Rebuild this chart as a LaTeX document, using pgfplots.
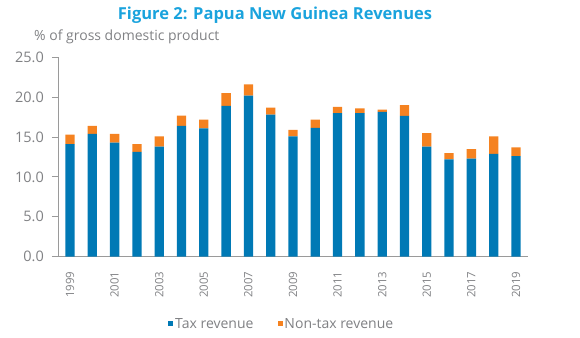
\documentclass[border=0pt]{standalone}
\usepackage{pgfplots}
\pgfplotsset{compat=1.18}
\usepackage{pgfplotstable}
\usepackage{fontspec}
\setmainfont{Open Sans}
\definecolor{taxblue}{HTML}{0079B5}
\definecolor{nontax}{HTML}{F58220}
\definecolor{titleblue}{HTML}{1AA3DD}
\definecolor{txtgrey}{HTML}{808184}
\definecolor{axgrey}{HTML}{9A9A9A}
\pgfplotstableread{
x year tax nontax
0 1999 14.1 1.2
1 2000 15.4 1.0
2 2001 14.3 1.1
3 2002 13.15 0.95
4 2003 13.8 1.3
5 2004 16.4 1.3
6 2005 16.1 1.1
7 2006 18.9 1.6
8 2007 20.2 1.4
9 2008 17.8 0.9
10 2009 15.1 0.8
11 2010 16.15 1.05
12 2011 18.0 0.8
13 2012 18.0 0.6
14 2013 18.15 0.3
15 2014 17.65 1.35
16 2015 13.8 1.7
17 2016 12.2 0.8
18 2017 12.3 1.2
19 2018 12.9 2.2
20 2019 12.6 1.1
}\revdata
\begin{document}
\begin{tikzpicture}
\useasboundingbox (0,0) rectangle (580bp,338bp);
\begin{axis}[
  at={(58bp,81.3bp)}, anchor=south west,
  scale only axis, width=470bp, height=199.4bp,
  xmin=-0.54, xmax=20.54, ymin=0, ymax=25,
  ybar stacked, bar width=9.3bp,
  axis x line*=bottom, axis y line*=left,
  axis line style={axgrey, line width=0.9pt, -},
  xtick={0,2,...,20},
  xticklabels={1999,2001,2003,2005,2007,2009,2011,2013,2015,2017,2019},
  x tick label style={rotate=90, anchor=east, font=\fontsize{11.4bp}{13bp}\selectfont, text=txtgrey, inner sep=0pt},
  xticklabel shift=9bp,
  major x tick style={draw=none},
  ytick={0,5,...,25},
  y tick label style={font=\fontsize{14.5bp}{16bp}\selectfont, text=txtgrey, inner sep=0pt},
  yticklabel shift=8bp,
  yticklabel style={/pgf/number format/.cd, fixed, fixed zerofill, precision=1, assume math mode=true},
  major y tick style={axgrey, line width=0.9pt},
  tick align=outside, major tick length=6bp,
  legend style={draw=none, at={(0.476,-0.3375)}, anchor=center, font=\fontsize{14bp}{16bp}\selectfont, text=txtgrey, /tikz/every even column/.append style={column sep=22bp}},
  legend columns=2,
  legend image code/.code={\fill[#1] (2bp,-2.5bp) rectangle (7bp,2.5bp);},
]
\addplot[fill=taxblue, draw=none] table[x=x, y=tax]{\revdata};
\addplot[fill=nontax, draw=none] table[x=x, y=nontax]{\revdata};
\legend{Tax revenue, Non-tax revenue}
\end{axis}
\node[font=\fontsize{16.5bp}{20bp}\selectfont\bfseries, text=titleblue, anchor=base] at (275bp,318bp) {Figure 2: Papua New Guinea Revenues};
\node[font=\fontsize{14bp}{16bp}\selectfont, text=txtgrey, anchor=base west, inner sep=0pt] at (34bp,297.3bp) {\% of gross domestic product};
\end{tikzpicture}
\end{document}
